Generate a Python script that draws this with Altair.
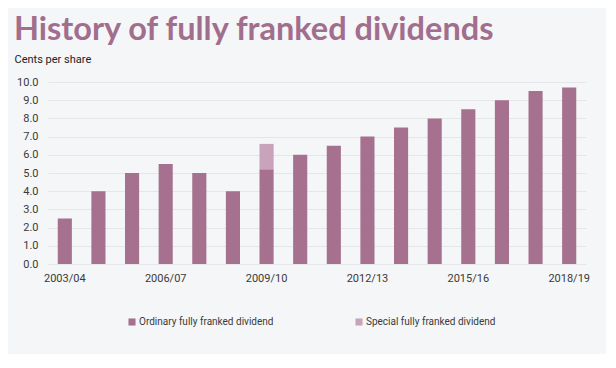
import altair as alt
import pandas as pd

years = ["2003/04", "2004/05", "2005/06", "2006/07", "2007/08", "2008/09", "2009/10",
         "2010/11", "2011/12", "2012/13", "2013/14", "2014/15", "2015/16", "2016/17",
         "2017/18", "2018/19"]
ordinary = [2.5, 4.0, 5.0, 5.5, 5.0, 4.0, 5.2, 6.0, 6.5, 7.0, 7.5, 8.0, 8.5, 9.0, 9.5, 9.7]
special = [0, 0, 0, 0, 0, 0, 1.4, 0, 0, 0, 0, 0, 0, 0, 0, 0]
series = ["Ordinary fully franked dividend", "Special fully franked dividend"]
shown_labels = ["2003/04", "2006/07", "2009/10", "2012/13", "2015/16", "2018/19"]

rows = []
for i, y in enumerate(years):
    rows.append({"year": y, "series": series[0], "value": ordinary[i], "order": 0})
    rows.append({"year": y, "series": series[1], "value": special[i], "order": 1})
df = pd.DataFrame(rows)

font = "Roboto"
chart = alt.Chart(df).mark_bar().encode(
    x=alt.X("year:N", sort=years, title=None,
            scale=alt.Scale(paddingInner=0.58, paddingOuter=0.29),
            axis=alt.Axis(values=shown_labels, labelAngle=0, ticks=False, domain=False,
                          labelFont=font, labelFontSize=11, labelColor="#3a3a3a",
                          labelPadding=8)),
    y=alt.Y("value:Q", stack="zero", title="Cents per share",
            scale=alt.Scale(domain=[0, 10]),
            axis=alt.Axis(values=[i for i in range(11)], format=".1f", ticks=False,
                          domain=False, gridColor="#e4e6ea", labelFont=font,
                          labelFontSize=11, labelColor="#3a3a3a", labelPadding=10,
                          titleAngle=0, titleAlign="left", titleBaseline="alphabetic",
                          titleX=-34, titleY=-20, titleFont=font, titleFontSize=11,
                          titleFontWeight="normal", titleColor="#222222")),
    color=alt.Color("series:N", sort=series,
                    scale=alt.Scale(domain=series, range=["#a5718f", "#c9a3b9"]),
                    legend=alt.Legend(title=None, orient="none", legendX=79, legendY=235,
                                      direction="horizontal", symbolType="square",
                                      symbolSize=50, symbolStrokeWidth=0,
                                      labelFont=font, labelFontSize=10,
                                      labelColor="#3a3a3a", columnPadding=80,
                                      labelOffset=2)),
    order=alt.Order("order:Q"),
).properties(
    width=538, height=182,
    padding={"left": 40, "top": 74, "right": 20, "bottom": 90},
    autosize=alt.AutoSizeParams(type="none"),
    background="#f5f6f8",
    title=alt.TitleParams("History of fully franked dividends", anchor="start",
                          frame="group", dx=-34, offset=7, font="Lato",
                          fontSize=32.5, fontWeight="bold", color="#a26e8d"),
).configure_view(stroke=None)

chart.save("out.html", embed_options={"renderer": "svg", "actions": False})
